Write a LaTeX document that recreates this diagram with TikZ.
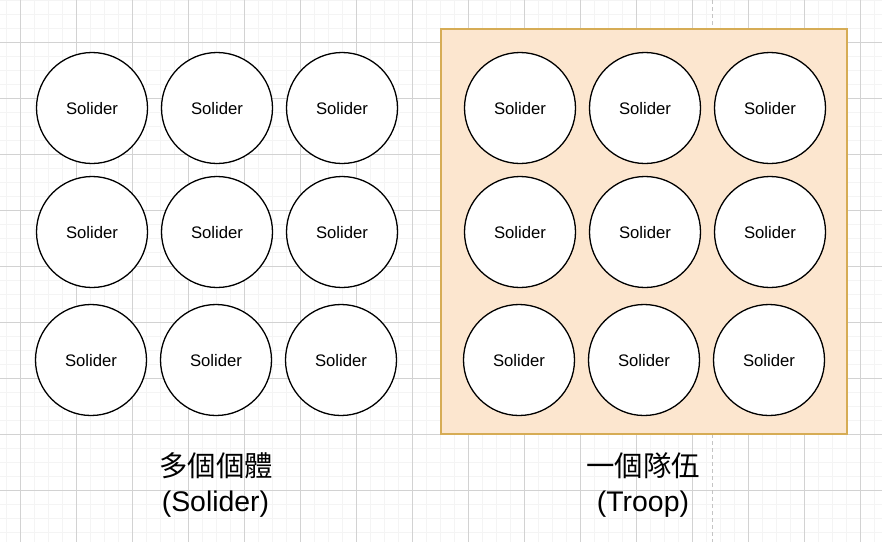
\documentclass[tikz,border=0pt]{standalone}
\usepackage{fontspec}
\setmainfont{Liberation Sans}
\newfontfamily\cjk{Noto Sans CJK TC}
\definecolor{gridminor}{HTML}{F4F4F4}
\definecolor{gridmajor}{HTML}{D2D2D2}
\definecolor{boxfill}{HTML}{FCE6CF}
\definecolor{boxline}{HTML}{D6AC55}
\definecolor{dashgray}{HTML}{C4C4C4}
\begin{document}
\begin{tikzpicture}[x=1pt,y=-1pt,
  soldier/.style={circle,draw=black,line width=1.3pt,fill=white,minimum size=111pt,inner sep=0pt,text height=12.6pt,text depth=0pt,font=\fontsize{16.7}{20}\selectfont},
  troopbox/.style={draw=boxline,fill=boxfill,line width=1.3pt,minimum width=406pt,minimum height=405pt,inner sep=0pt},
  biglabel/.style={anchor=base,inner sep=0pt,font=\fontsize{28.4}{34}\selectfont},
  minorline/.style={draw=gridminor,line width=1.2pt},
  majorline/.style={draw=gridmajor,line width=1pt},
  divider/.style={draw=dashgray,line width=1.3pt,dash pattern=on 4pt off 3pt}]
\useasboundingbox (0,0) rectangle (882,542);
\fill[white] (0,0) rectangle (882,542);
% grid
\foreach \gx in {6.7,20.7,...,882} {\draw[minorline] (\gx,0) -- (\gx,542);}
\foreach \gy in {0.7,14.7,...,542} {\draw[minorline] (0,\gy) -- (882,\gy);}
\foreach \gx in {20.7,76.7,...,882} {\draw[majorline] (\gx,0) -- (\gx,542);}
\foreach \gy in {42.7,98.7,...,542} {\draw[majorline] (0,\gy) -- (882,\gy);}
% divider
\coordinate (dtop) at (712.7,0);
\coordinate (dbot) at (712.7,542);
\draw[divider] (dtop) -- (dbot);
% troop box
\node[troopbox] (troop) at (644,231.5) {};
% left soldiers
\node[soldier] (l11) at (92,108) {Solider};
\node[soldier] (l12) at (217,108) {Solider};
\node[soldier] (l13) at (342,108) {Solider};
\node[soldier] (l21) at (92,232) {Solider};
\node[soldier] (l22) at (217,232) {Solider};
\node[soldier] (l23) at (342,232) {Solider};
\node[soldier] (l31) at (91,360) {Solider};
\node[soldier] (l32) at (216,360) {Solider};
\node[soldier] (l33) at (341,360) {Solider};
% right soldiers
\node[soldier] (r11) at (520,108) {Solider};
\node[soldier] (r12) at (645,108) {Solider};
\node[soldier] (r13) at (770,108) {Solider};
\node[soldier] (r21) at (520,232) {Solider};
\node[soldier] (r22) at (645,232) {Solider};
\node[soldier] (r23) at (770,232) {Solider};
\node[soldier] (r31) at (519,360) {Solider};
\node[soldier] (r32) at (644,360) {Solider};
\node[soldier] (r33) at (769,360) {Solider};
% labels
\node[biglabel] (leftzh) at (216,476) {\cjk 多個個體};
\node[biglabel] (lefte) at (215.5,511.5) {(Solider)};
\node[biglabel] (rightzh) at (643,476) {\cjk 一個隊伍};
\node[biglabel] (righte) at (643,511.5) {(Troop)};
\end{tikzpicture}
\end{document}
